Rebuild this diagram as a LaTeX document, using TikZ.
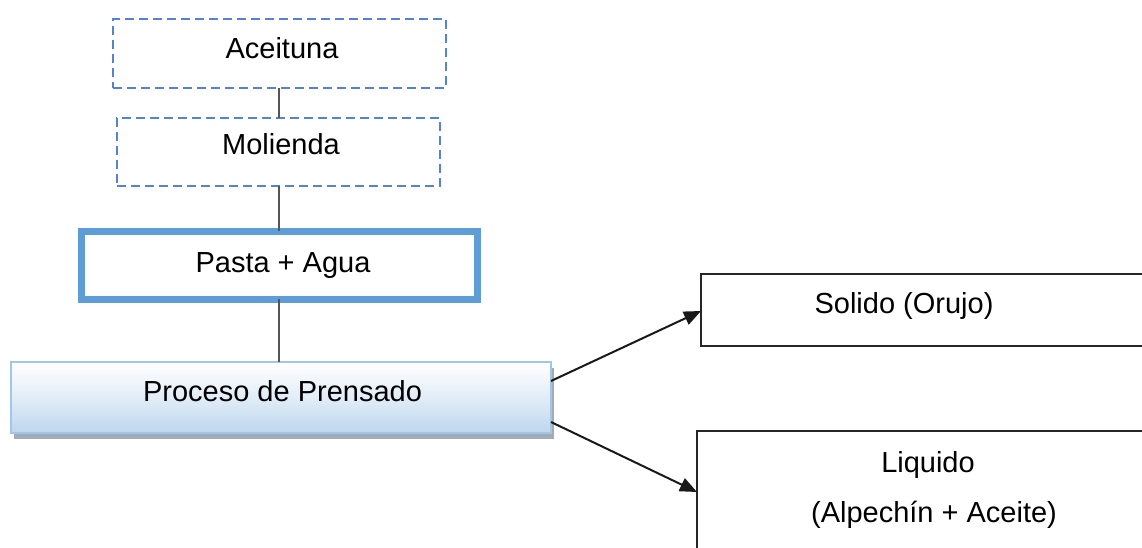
\documentclass[tikz,border=0pt]{standalone}
\usepackage{fontspec}
\setmainfont{Liberation Sans}
\usetikzlibrary{arrows.meta,shadows}
\definecolor{dashblue}{RGB}{84,132,208}
\definecolor{thickblue}{RGB}{95,157,214}
\definecolor{pbord}{RGB}{160,198,232}
\definecolor{pbot}{RGB}{190,214,238}
\definecolor{conn}{RGB}{85,85,85}
\definecolor{shad}{RGB}{140,150,165}
\begin{document}
\begin{tikzpicture}[x=1pt,y=-1pt,
  txt/.style={font=\fontsize{29}{35}\selectfont, inner sep=0pt, anchor=base},
  box/.style={rectangle, inner sep=0pt, outer sep=0pt},
  dashbox/.style={box, draw=dashblue, line width=2.4pt, dash pattern=on 9pt off 5pt},
  thickbox/.style={box, draw=thickblue, line width=7pt},
  pressbox/.style={box, draw=pbord, line width=1.8pt,
     top color=white, bottom color=pbot, middle color=white!55!pbot,
     drop shadow={shadow xshift=3pt, shadow yshift=-6pt, fill=shad, opacity=0.8}},
  outbox/.style={box, draw=black!85, line width=2.2pt},
  conline/.style={draw=conn, line width=2.6pt},
  arr/.style={draw=black!90, line width=2pt, -{Triangle[length=17pt,width=14pt]}}
]
\useasboundingbox (0,0) rectangle (1142,548);
\clip (0,0) rectangle (1142,548);
\fill[white] (0,0) rectangle (1142,548);

\node[dashbox, minimum width=333pt, minimum height=69pt] (ac) at (279.5,53.5) {};
\node[dashbox, minimum width=323pt, minimum height=68pt] (mo) at (278.5,152) {};
\node[thickbox, minimum width=396pt, minimum height=68pt] (pa) at (279,265) {};
\node[pressbox, minimum width=540pt, minimum height=71pt] (pr) at (281,397.5) {};
\node[outbox, minimum width=460pt, minimum height=72pt] (so) at (931,310) {};
\node[outbox, minimum width=463pt, minimum height=130pt] (li) at (928.5,496) {};

\node[txt] (tac) at (282,59) {Aceituna};
\node[txt] (tmo) at (281,155) {Molienda};
\node[txt] (tpa) at (283,272) {Pasta + Agua};
\node[txt] (tpr) at (282.5,401) {Proceso de Prensado};
\node[txt] (tso) at (904,313) {Solido (Orujo)};
\node[txt] (tli) at (928,472) {Liquido};
\node[txt] (tal) at (934,522) {(Alpechín + Aceite)};

\coordinate (c1) at (279,88);
\draw[conline] (ac.south -| c1) -- (mo.north -| c1);
\draw[conline] (mo.south -| c1) -- (pa.north -| c1);
\draw[conline] (pa.south -| c1) -- (pr.north -| c1);

\coordinate (s1) at (551,381);
\coordinate (s2) at (551,422);
\coordinate (e1) at (700,311);
\coordinate (e2) at (697,492);
\draw[arr] (pr.east |- s1) -- (so.west |- e1);
\draw[arr] (pr.east |- s2) -- (li.west |- e2);
\end{tikzpicture}
\end{document}
